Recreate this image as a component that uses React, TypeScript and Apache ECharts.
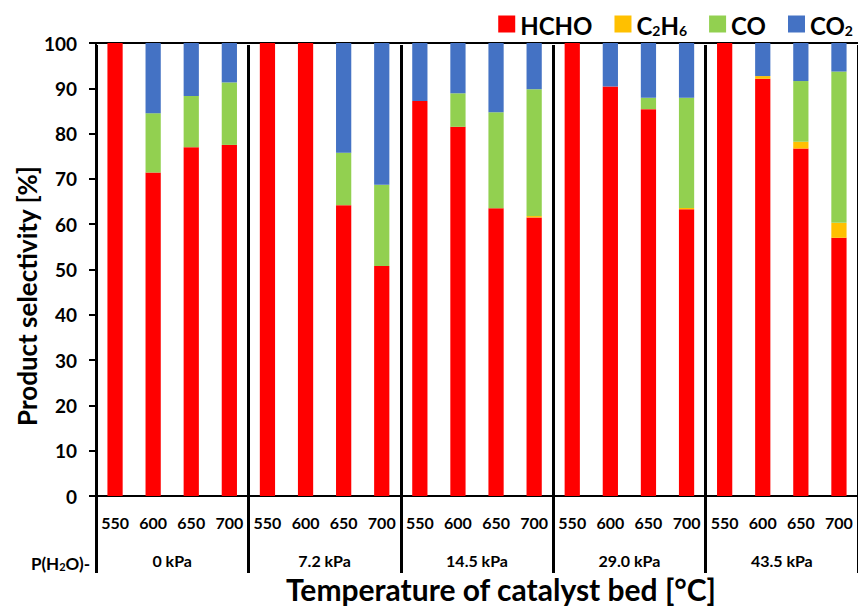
import React, { useEffect, useRef } from "react";
import * as echarts from "echarts";

const temps = ["550", "600", "650", "700"];
const groups = ["0 kPa", "7.2 kPa", "14.5 kPa", "29.0 kPa", "43.5 kPa"];
const seriesNames = ["HCHO", "C2H6", "CO", "CO2"];
const hcho = [100, 71.4, 77.0, 77.5, 100, 100, 64.2, 50.8, 87.2, 81.5, 63.5, 61.5, 100, 90.4, 85.4, 63.3, 100, 92.1, 76.7, 57.0];
const c2h6 = [0, 0, 0, 0, 0, 0, 0, 0, 0, 0, 0, 0.3, 0, 0, 0, 0.3, 0, 0.6, 1.5, 3.3];
const co = [0, 13.1, 11.3, 13.8, 0, 0, 11.6, 17.9, 0, 7.4, 21.2, 28.0, 0, 0, 2.5, 24.3, 0, 0, 13.4, 33.4];
const co2 = [0, 15.5, 11.7, 8.7, 0, 0, 24.2, 31.3, 12.8, 11.1, 15.3, 10.2, 0, 9.6, 12.1, 12.1, 0, 7.3, 8.4, 6.3];
const colors = ["#FF0000", "#FFC000", "#92D050", "#4472C4"];

const FONT = "Lato";

export default function App() {
  const ref = useRef<HTMLDivElement>(null);
  useEffect(() => {
    if (!ref.current) return;
    const chart = echarts.init(ref.current, null, { renderer: "svg" });
    const categories: string[] = [];
    groups.forEach((g) => temps.forEach((t) => categories.push(g + "|" + t)));
    const values = [hcho, c2h6, co, co2];
    const legendFmt: Record<string, string> = {
      HCHO: "{n|HCHO}",
      C2H6: "{n|C}{s|2}{n|H}{s|6}",
      CO: "{n|CO}",
      CO2: "{n|CO}{s|2}",
    };
    chart.setOption({
      animation: false,
      backgroundColor: "#fff",
      color: colors,
      textStyle: { fontFamily: FONT },
      grid: { left: 96, right: 0, top: 43, bottom: 114 },
      legend: {
        top: 8,
        right: 0,
        itemWidth: 17,
        itemHeight: 17,
        itemGap: 22,
        icon: "rect",
        data: seriesNames,
        formatter: (name: string) => legendFmt[name],
        textStyle: {
          rich: {
            n: { fontSize: 24, fontWeight: "bold", fontFamily: FONT, color: "#000", lineHeight: 26, verticalAlign: "bottom" },
            s: { fontSize: 14, fontWeight: "bold", fontFamily: FONT, color: "#000", lineHeight: 10, verticalAlign: "bottom" },
          },
        },
      },
      xAxis: [
        {
          type: "category",
          data: categories,
          position: "bottom",
          axisLine: { show: true, lineStyle: { color: "#000", width: 2 } },
          axisTick: { show: false },
          axisLabel: {
            interval: 0,
            margin: 18,
            fontSize: 16,
            fontWeight: "bold",
            color: "#000",
            fontFamily: FONT,
            formatter: (v: string) => v.split("|")[1],
          },
          splitLine: { show: false },
        },
        {
          type: "category",
          data: groups,
          position: "bottom",
          offset: 77,
          axisLine: { show: false },
          axisTick: { show: true, inside: true, length: 528, lineStyle: { color: "#000", width: 3 } },
          axisLabel: {
            inside: true,
            margin: 5,
            fontSize: 16,
            fontWeight: "bold",
            color: "#000",
            fontFamily: FONT,
          },
          splitLine: { show: false },
        },
        {
          type: "value",
          position: "top",
          min: 0,
          max: 1,
          axisLine: { show: true, onZero: false, lineStyle: { color: "#000", width: 2 } },
          axisTick: { show: false },
          axisLabel: { show: false },
          splitLine: { show: false },
        },
      ],
      yAxis: {
        type: "value",
        min: 0,
        max: 100,
        interval: 10,
        axisLine: { show: true, lineStyle: { color: "#000", width: 2 } },
        axisTick: { show: true, length: 7, lineStyle: { color: "#000", width: 2 } },
        axisLabel: { fontSize: 19, fontWeight: "bold", color: "#000", fontFamily: FONT, margin: 19 },
        splitLine: { show: false },
      },
      graphic: [
        {
          type: "text",
          x: 27,
          y: 296,
          rotation: Math.PI / 2,
          style: {
            text: "Product selectivity [%]",
            fontSize: 26,
            fontWeight: "bold",
            fontFamily: FONT,
            fill: "#000",
            align: "center",
            verticalAlign: "middle",
          },
        },
        {
          type: "text",
          x: 501,
          y: 589,
          style: {
            text: "Temperature of catalyst bed [°C]",
            fontSize: 30,
            fontWeight: "bold",
            fontFamily: FONT,
            fill: "#000",
            align: "center",
            verticalAlign: "middle",
          },
        },
        {
          type: "text",
          x: 90,
          y: 562,
          style: {
            text: "{n|P(H}{s|2}{n|O)-}",
            align: "right",
            verticalAlign: "middle",
            rich: {
              n: { fontSize: 17, fontWeight: "bold", fontFamily: FONT, fill: "#000", lineHeight: 20, verticalAlign: "bottom" },
              s: { fontSize: 11, fontWeight: "bold", fontFamily: FONT, fill: "#000", lineHeight: 9, verticalAlign: "bottom" },
            },
          },
        },
      ],
      series: seriesNames.map((name, i) => ({
        name,
        type: "bar",
        stack: "total",
        barWidth: "40%",
        xAxisIndex: 0,
        data: values[i],
      })),
    });
    return () => chart.dispose();
  }, []);
  return <div ref={ref} style={{ position: "fixed", left: 0, top: 0, width: 858, height: 610 }} />;
}
